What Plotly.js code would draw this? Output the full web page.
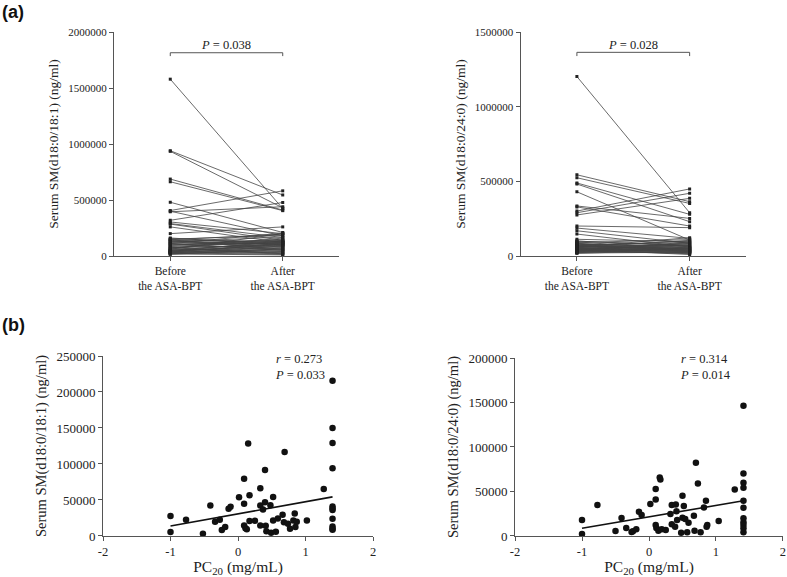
<!DOCTYPE html>
<html>
<head>
<meta charset="utf-8">
<script src="https://cdn.plot.ly/plotly-3.0.1.min.js"></script>
<style>html,body{margin:0;padding:0;background:#fff;}#chart{width:787px;height:577px;}</style>
</head>
<body>
<div id="chart"></div>
<script>
// ---- Data ----
const categories = ["Before<br>the ASA-BPT", "After<br>the ASA-BPT"];

// (a) left: Serum SM(d18:0/18:1), paired values (ng/ml)
const beforeA = [1579000, 940000, 935000, 687000, 663000, 480000, 406000, 400000, 395000, 319000,
  304000, 290000, 285000, 260000, 200000, 161000, 150000, 145000, 140000, 130000,
  125000, 120000, 115000, 110000, 105000, 100000, 95000, 90000, 85000, 80000,
  75000, 70000, 65000, 60000, 55000, 50000, 48000, 45000, 42000, 40000,
  38000, 35000, 32000, 30000, 28000, 25000, 22000, 20000, 18000, 15000,
  145000, 135000, 60000, 110000, 155000, 70000, 50000, 35000];
const afterA = [424000, 545000, 430000, 410000, 405000, 210000, 582000, 180000, 440000, 478000,
  200000, 165000, 140000, 120000, 260000, 100000, 185000, 60000, 130000, 110000,
  170000, 90000, 140000, 50000, 120000, 115000, 150000, 80000, 130000, 20000,
  100000, 160000, 40000, 110000, 70000, 125000, 30000, 95000, 60000, 135000,
  20000, 105000, 45000, 75000, 15000, 90000, 35000, 55000, 10000, 65000,
  195000, 100000, 200000, 205000, 120000, 140000, 85000, 115000];

// (a) right: Serum SM(d18:0/24:0), paired values (ng/ml)
const beforeB = [1202000, 544000, 524000, 489000, 482000, 430000, 335000, 329000, 301000, 290000,
  275000, 201000, 187000, 169000, 147000, 112000, 100000, 95000, 90000, 85000,
  80000, 78000, 75000, 72000, 70000, 68000, 65000, 62000, 60000, 58000,
  55000, 52000, 50000, 48000, 45000, 42000, 40000, 38000, 35000, 32000,
  30000, 28000, 25000, 22000, 20000, 18000, 60000, 45000, 85000, 100000,
  35000, 50000, 30000, 70000, 40000, 55000, 65000, 25000];
const afterB = [290000, 364000, 352000, 279000, 230000, 107000, 252000, 201000, 449000, 420000,
  386000, 190000, 118000, 85000, 60000, 95000, 70000, 40000, 110000, 55000,
  30000, 65000, 90000, 45000, 35000, 100000, 25000, 50000, 80000, 20000,
  105000, 60000, 40000, 75000, 30000, 88000, 15000, 55000, 45000, 70000,
  35000, 20000, 60000, 50000, 25000, 40000, 123000, 10000, 30000, 65000,
  85000, 20000, 95000, 48000, 75000, 28000, 38000, 52000];

// (b) left: PC20 vs SM(d18:0/18:1)
const pcA = [-1.0, -1.0, -0.77, -0.52, -0.41, -0.34, -0.27, -0.24, -0.19, -0.14, -0.11, 0.015,
  0.09, 0.09, 0.09, 0.11, 0.13, 0.15, 0.17, 0.17, 0.25, 0.33, 0.33, 0.33, 0.37, 0.40, 0.40,
  0.41, 0.42, 0.48, 0.49, 0.52, 0.52, 0.56, 0.59, 0.66, 0.68, 0.69, 0.74, 0.77, 0.82, 0.84,
  0.85, 0.87, 1.02, 1.27, 1.40, 1.40, 1.40, 1.40, 1.40, 1.40, 1.40, 1.40, 1.40, 1.40, 1.40];
const smA = [27600, 5500, 22600, 3200, 42400, 19800, 22600, 8300, 12400, 37800, 40500, 53900,
  79600, 44700, 14700, 10600, 9200, 128500, 56600, 20700, 21200, 66300, 14700, 42400, 36800, 91600, 47000,
  14300, 6400, 42800, 4600, 54300, 21600, 6000, 24400, 29500, 18900, 116500, 17000, 10100, 21600, 31300,
  12400, 19800, 21600, 65400, 215500, 150000, 129000, 94000, 41000, 38000, 36000, 24000, 13000, 10000, 8700];
const fitAx = [-1.0, 1.4];
const fitAy = [13800, 54300];

// (b) right: PC20 vs SM(d18:0/24:0)
const pcB = [-1.0, -1.0, -0.77, -0.50, -0.41, -0.34, -0.26, -0.24, -0.19, -0.15, -0.11, 0.02,
  0.10, 0.10, 0.10, 0.11, 0.14, 0.16, 0.17, 0.19, 0.25, 0.32, 0.34, 0.34, 0.39, 0.40, 0.41,
  0.42, 0.48, 0.50, 0.50, 0.52, 0.54, 0.57, 0.59, 0.67, 0.68, 0.70, 0.73, 0.77, 0.82, 0.85,
  0.86, 0.87, 1.04, 1.28, 1.41, 1.41, 1.41, 1.41, 1.41, 1.41, 1.41, 1.41, 1.41, 1.41, 1.41];
const smB = [17900, 2200, 34800, 5600, 20200, 9000, 4500, 5200, 7500, 27300, 23500, 35900,
  52700, 41100, 12300, 9000, 6000, 65800, 63500, 7500, 6700, 24700, 34800, 13100, 10500, 35500, 27700,
  17900, 3700, 45200, 20600, 33600, 19100, 4100, 15000, 22800, 6000, 82200, 59000, 4100, 32100, 39600,
  10500, 12300, 16800, 52300, 146500, 70300, 59800, 54200, 39600, 31800, 19800, 15300, 12300, 8600, 4100];
const fitBx = [-1.0, 1.41];
const fitBy = [8600, 39600];

const pcTicks = [-2, -1, 0, 1, 2];
const pcTickText = ["-2", "-1", "0", "1", "2"];

// ---- Build traces ----
function paired(before, after, xa, ya) {
  const x = [], y = [];
  for (let i = 0; i < before.length; i++) {
    x.push(0, 1, null);
    y.push(before[i], after[i], null);
  }
  return {
    x: x, y: y, xaxis: xa, yaxis: ya, type: 'scatter', mode: 'lines+markers',
    line: {color: '#444', width: 0.8},
    marker: {symbol: 'square', size: 3, color: '#222'},
    connectgaps: false, hoverinfo: 'skip'
  };
}
const traces = [
  paired(beforeA, afterA, 'x', 'y'),
  paired(beforeB, afterB, 'x2', 'y2'),
  {x: pcA, y: smA, xaxis: 'x3', yaxis: 'y3', type: 'scatter', mode: 'markers',
   marker: {size: 6.5, color: '#111'}},
  {x: fitAx, y: fitAy, xaxis: 'x3', yaxis: 'y3', type: 'scatter', mode: 'lines',
   line: {color: '#111', width: 1.6}},
  {x: pcB, y: smB, xaxis: 'x4', yaxis: 'y4', type: 'scatter', mode: 'markers',
   marker: {size: 6.5, color: '#111'}},
  {x: fitBx, y: fitBy, xaxis: 'x4', yaxis: 'y4', type: 'scatter', mode: 'lines',
   line: {color: '#111', width: 1.6}}
];

const serif = 'Liberation Serif, Times New Roman, serif';
const axCommon = {showline: true, linecolor: '#555', linewidth: 1, ticks: 'outside', ticklen: 4,
  tickcolor: '#555', showgrid: false, zeroline: false, fixedrange: true};

function catAxis(domain, anchor) {
  return Object.assign({}, axCommon, {domain: domain, anchor: anchor, range: [-0.5, 1.5],
    tickvals: [0, 1], ticktext: categories, tickfont: {size: 11.5, family: serif, color: '#222'}});
}
function valAxis(domain, anchor, range, dtick, title, tfs, ttfs) {
  return Object.assign({}, axCommon, {domain: domain, anchor: anchor, range: range, dtick: dtick,
    tickformat: 'd', tickfont: {size: tfs, family: serif, color: '#222'},
    title: {text: title, font: {size: ttfs, family: serif, color: '#222'}, standoff: 6}});
}
function pcAxis(domain, anchor) {
  return Object.assign({}, axCommon, {domain: domain, anchor: anchor, range: [-2, 2],
    tickvals: pcTicks, ticktext: pcTickText, tickfont: {size: 12.5, family: serif, color: '#222'},
    title: {text: 'PC<sub>20</sub> (mg/mL)', font: {size: 15.5, family: serif, color: '#222'}, standoff: 8}});
}

const layout = {
  width: 787, height: 577, margin: {l: 0, r: 0, t: 0, b: 0},
  paper_bgcolor: '#fff', plot_bgcolor: '#fff', showlegend: false,
  font: {family: serif, color: '#222'},
  xaxis: catAxis([0.1449, 0.4307], 'y'),
  yaxis: valAxis([0.5563, 0.9445], 'x', [0, 2000000], 500000, 'Serum SM(d18:0/18:1) (ng/ml)', 11, 13.5),
  xaxis2: catAxis([0.6614, 0.9479], 'y2'),
  yaxis2: valAxis([0.5563, 0.9445], 'x2', [0, 1500000], 500000, 'Serum SM(d18:0/24:0) (ng/ml)', 11, 13.5),
  xaxis3: pcAxis([0.1309, 0.4740], 'y3'),
  yaxis3: valAxis([0.0711, 0.3830], 'x3', [0, 250000], 50000, 'Serum SM(d18:0/18:1) (ng/ml)', 13, 14.5),
  xaxis4: pcAxis([0.6544, 0.9949], 'y4'),
  yaxis4: valAxis([0.0711, 0.3795], 'x4', [0, 200000], 50000, 'Serum SM(d18:0/24:0) (ng/ml)', 13, 14.5),
  shapes: [
    {type: 'path', xref: 'x', yref: 'y', path: 'M 0,1785000 L 0,1815000 L 1,1815000 L 1,1785000',
     line: {color: '#555', width: 1}},
    {type: 'path', xref: 'x2', yref: 'y2', path: 'M 0,1339000 L 0,1364000 L 1,1364000 L 1,1339000',
     line: {color: '#555', width: 1}}
  ],
  annotations: [
    {xref: 'x', yref: 'y', x: 0.5, y: 1884000, text: '<i>P</i> = 0.038', showarrow: false,
     font: {size: 12.5, family: serif, color: '#222'}, yanchor: 'middle'},
    {xref: 'x2', yref: 'y2', x: 0.5, y: 1413000, text: '<i>P</i> = 0.028', showarrow: false,
     font: {size: 12.5, family: serif, color: '#222'}, yanchor: 'middle'},
    {xref: 'x3', yref: 'y3', x: 0.52, y: 235000, text: '<i>r</i> = 0.273<br><i>P</i> = 0.033', showarrow: false,
     font: {size: 12.5, family: serif, color: '#222'}, xanchor: 'left', yanchor: 'middle', align: 'left'},
    {xref: 'x4', yref: 'y4', x: 0.43, y: 190000, text: '<i>r</i> = 0.314<br><i>P</i> = 0.014', showarrow: false,
     font: {size: 12.5, family: serif, color: '#222'}, xanchor: 'left', yanchor: 'middle', align: 'left'},
    {xref: 'paper', yref: 'paper', x: 0.0, y: 1.0, xanchor: 'left', yanchor: 'top', text: '<b>(a)</b>',
     showarrow: false, font: {size: 18, family: 'Liberation Sans, Arial, sans-serif', color: '#111'}},
    {xref: 'paper', yref: 'paper', x: 0.0, y: 0.457, xanchor: 'left', yanchor: 'top', text: '<b>(b)</b>',
     showarrow: false, font: {size: 18, family: 'Liberation Sans, Arial, sans-serif', color: '#111'}}
  ]
};

Plotly.newPlot('chart', traces, layout, {staticPlot: true, displayModeBar: false});
</script>
</body>
</html>
